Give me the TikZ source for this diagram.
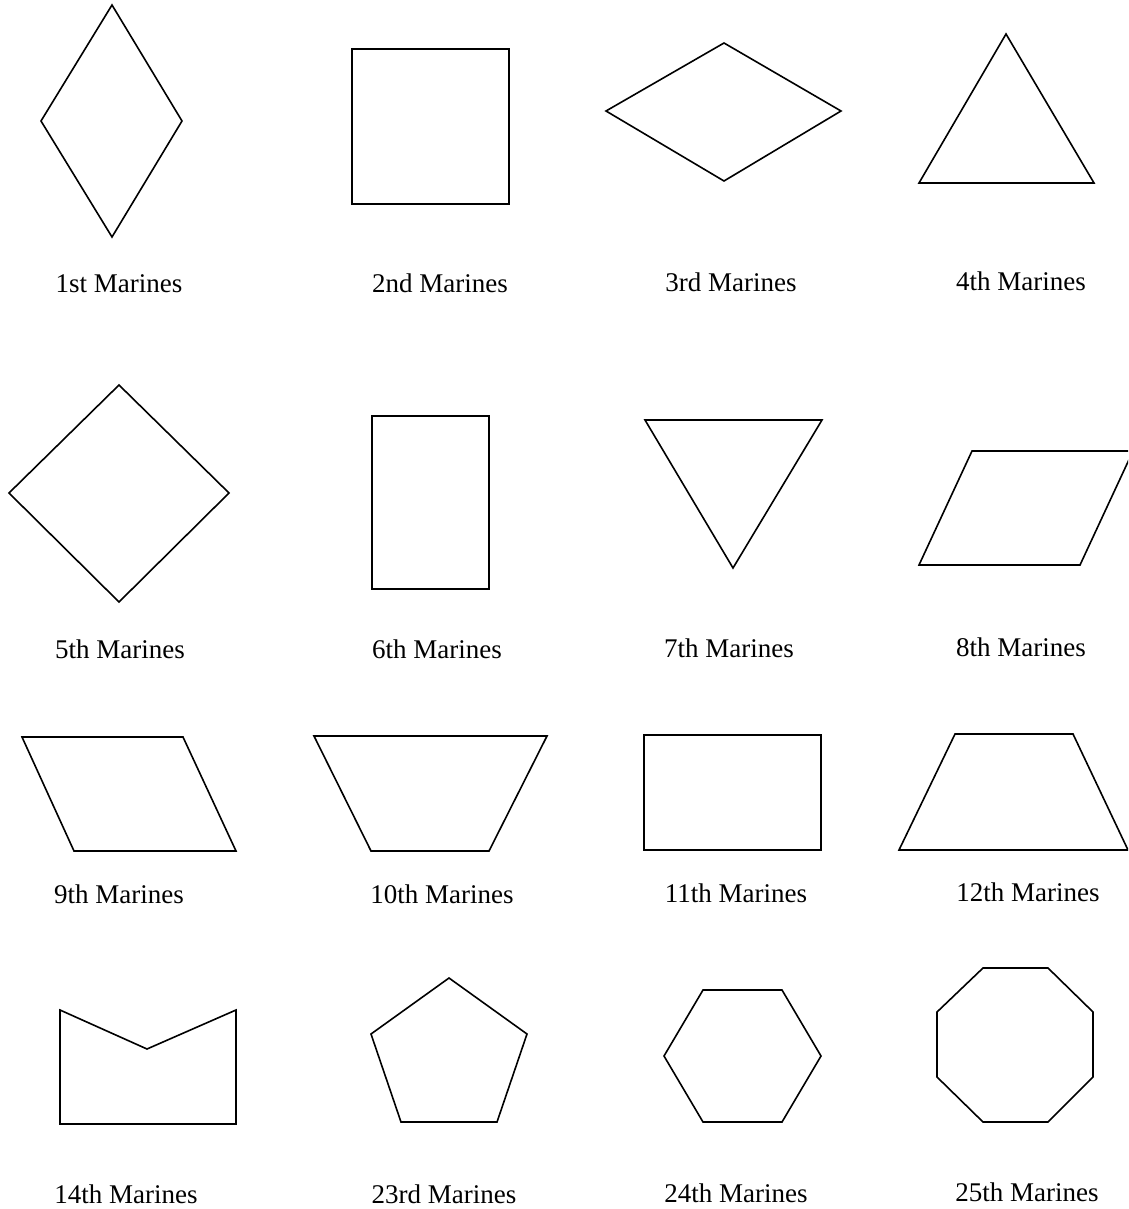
\documentclass[tikz,border=0pt]{standalone}
\usepackage{fontspec}
\setmainfont{Liberation Serif}
\begin{document}
\begin{tikzpicture}[x=1pt,y=-1pt,
  shp/.style={draw=black,line width=1.6pt,line join=miter},
  lbl/.style={font=\fontsize{27}{32}\selectfont,inner sep=0pt,anchor=base}]
\useasboundingbox (0,0) rectangle (1128,1209);
\clip (0,0) rectangle (1128,1209);
% Row 1
\draw[shp] (112,5) -- (182,121) -- (112,237) -- (41,121) -- cycle;
\draw[shp] (352,49) rectangle (509,204);
\draw[shp] (606,111) -- (724,43) -- (841,111) -- (724,181) -- cycle;
\draw[shp] (1006,34) -- (1094,183) -- (919,183) -- cycle;
\node[lbl] (l1) at (119,292) {1st Marines};
\node[lbl] (l2) at (440,292) {2nd Marines};
\node[lbl] (l3) at (731,291) {3rd Marines};
\node[lbl] (l4) at (1021,290) {4th Marines};
% Row 2
\draw[shp] (119,385) -- (229,493) -- (119,602) -- (9,493) -- cycle;
\draw[shp] (372,416) rectangle (489,589);
\draw[shp] (645,420) -- (822,420) -- (733,568) -- cycle;
\draw[shp] (972,451) -- (1133,451) -- (1080,565) -- (919,565) -- cycle;
\node[lbl] (l5) at (120,658) {5th Marines};
\node[lbl] (l6) at (437,658) {6th Marines};
\node[lbl] (l7) at (729,657) {7th Marines};
\node[lbl] (l8) at (1021,656) {8th Marines};
% Row 3
\draw[shp] (22,737) -- (183,737) -- (236,851) -- (74,851) -- cycle;
\draw[shp] (314,736) -- (547,736) -- (489,851) -- (371,851) -- cycle;
\draw[shp] (644,735) rectangle (821,850);
\draw[shp] (955,734) -- (1073,734) -- (1128,850) -- (899,850) -- cycle;
\node[lbl] (l9) at (119,903) {9th Marines};
\node[lbl] (l10) at (442,903) {10th Marines};
\node[lbl] (l11) at (736,902) {11th Marines};
\node[lbl] (l12) at (1028,901) {12th Marines};
% Row 4
\draw[shp] (60,1010) -- (147,1049) -- (236,1010) -- (236,1124) -- (60,1124) -- cycle;
\draw[shp] (449,978) -- (527,1034) -- (497,1122) -- (401,1122) -- (371,1034) -- cycle;
\draw[shp] (664,1056) -- (703,990) -- (782,990) -- (821,1056) -- (782,1122) -- (703,1122) -- cycle;
\draw[shp] (983,968) -- (1048,968) -- (1093,1012) -- (1093,1077) -- (1048,1122) -- (983,1122) -- (937,1077) -- (937,1012) -- cycle;
\node[lbl] (l14) at (126,1203) {14th Marines};
\node[lbl] (l23) at (444,1203) {23rd Marines};
\node[lbl] (l24) at (736,1202) {24th Marines};
\node[lbl] (l25) at (1027,1201) {25th Marines};
\end{tikzpicture}
\end{document}
